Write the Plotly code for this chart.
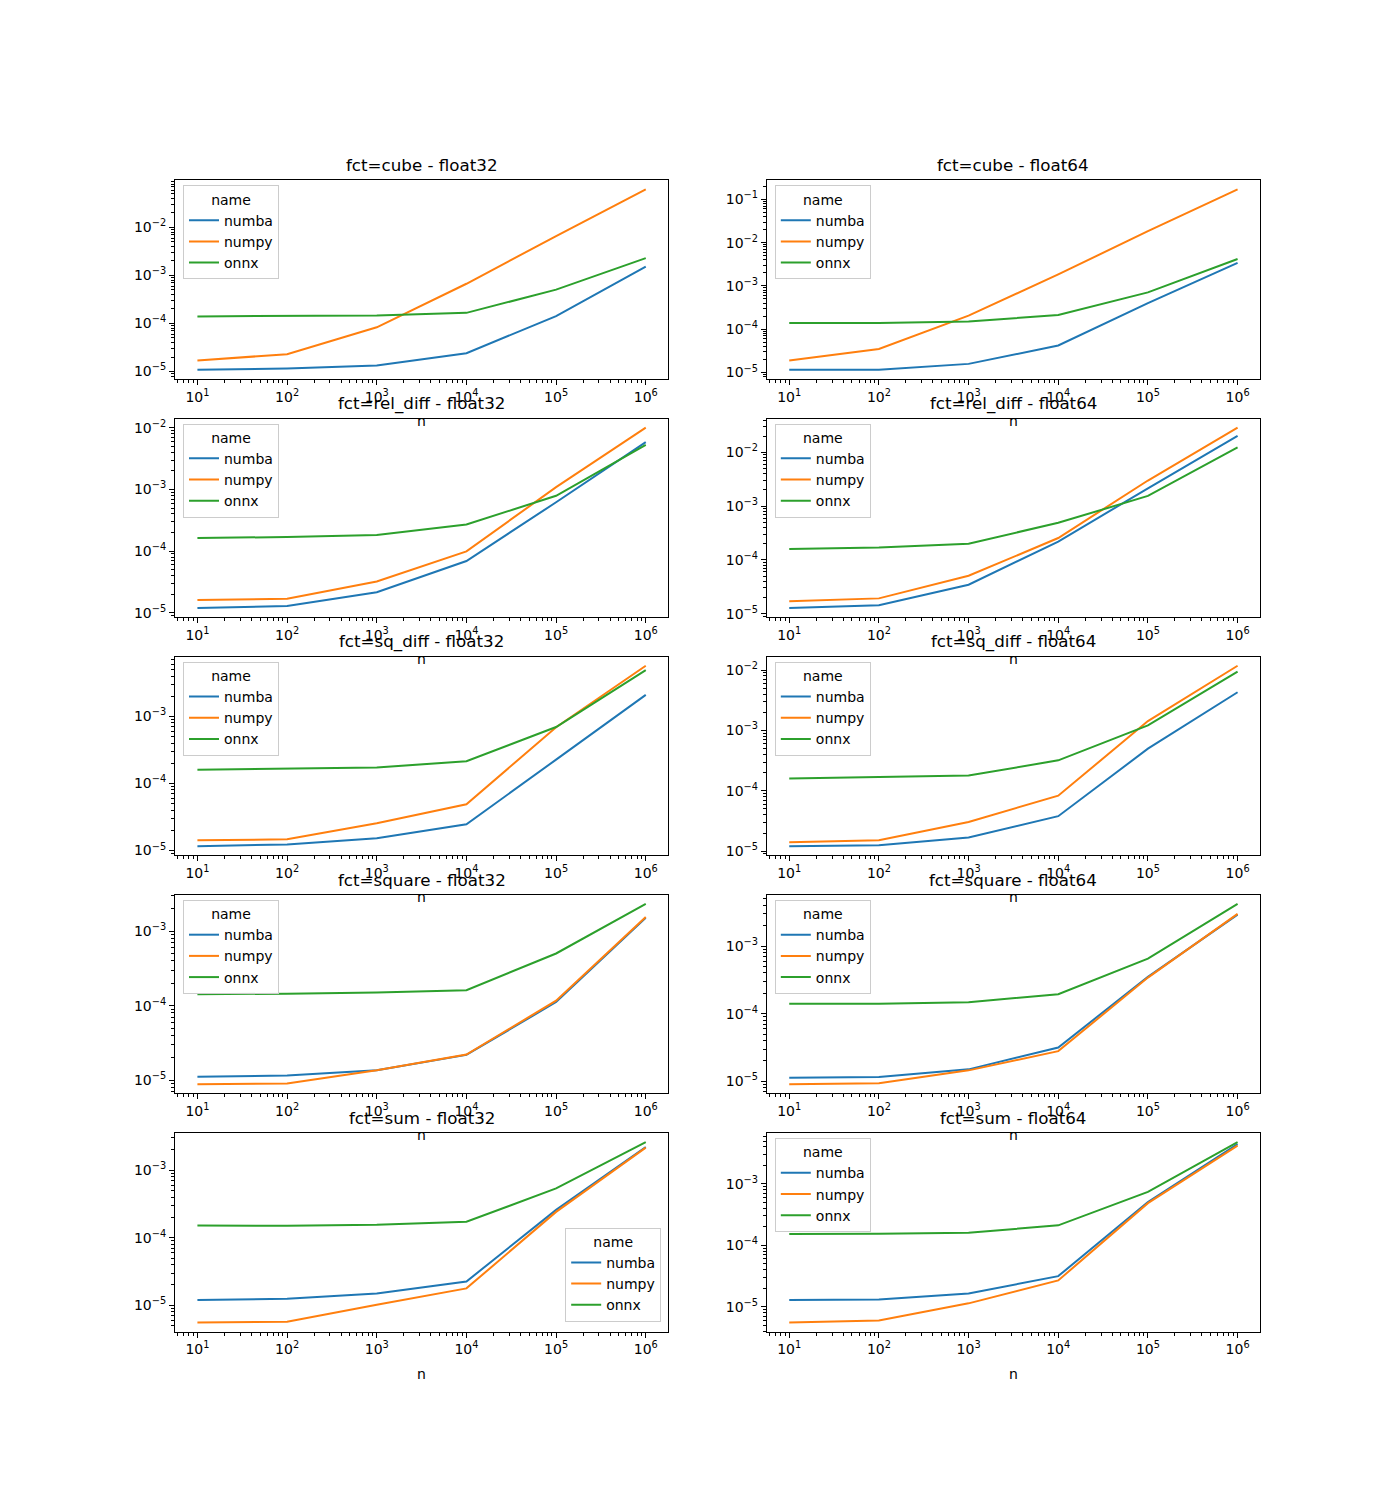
import plotly.graph_objects as go
import numpy as np

# ---------------- data ----------------
n_values = [10, 100, 1000, 10000, 100000, 1000000]
names = ["numba", "numpy", "onnx"]
colors = {"numba": "#1f77b4", "numpy": "#ff7f0e", "onnx": "#2ca02c"}

cube_f32_numba = [1.08e-5, 1.15e-5, 1.33e-5, 2.4e-5, 1.42e-4, 1.53e-3]
cube_f32_numpy = [1.69e-5, 2.29e-5, 8.3e-5, 6.7e-4, 6.6e-3, 6.17e-2]
cube_f32_onnx = [1.40e-4, 1.41e-4, 1.47e-4, 1.66e-4, 5.05e-4, 2.29e-3]

cube_f64_numba = [1.15e-5, 1.15e-5, 1.58e-5, 4.2e-5, 4.0e-4, 3.4e-3]
cube_f64_numpy = [1.89e-5, 3.5e-5, 2.06e-4, 1.85e-3, 1.84e-2, 0.17]
cube_f64_onnx = [1.39e-4, 1.39e-4, 1.5e-4, 2.13e-4, 7.1e-4, 4.2e-3]

rel_f32_numba = [1.19e-5, 1.28e-5, 2.14e-5, 6.9e-5, 6.2e-4, 5.86e-3]
rel_f32_numpy = [1.6e-5, 1.69e-5, 3.2e-5, 9.9e-5, 1.09e-3, 1.01e-2]
rel_f32_onnx = [1.63e-4, 1.69e-4, 1.82e-4, 2.7e-4, 7.9e-4, 5.3e-3]

rel_f64_numba = [1.27e-5, 1.43e-5, 3.44e-5, 2.19e-4, 2.15e-3, 2.04e-2]
rel_f64_numpy = [1.69e-5, 1.92e-5, 5.06e-5, 2.55e-4, 3.0e-3, 2.9e-2]
rel_f64_onnx = [1.6e-4, 1.7e-4, 2.0e-4, 4.9e-4, 1.55e-3, 1.24e-2]

sq_f32_numba = [1.16e-5, 1.23e-5, 1.52e-5, 2.46e-5, 2.27e-4, 2.1e-3]
sq_f32_numpy = [1.42e-5, 1.47e-5, 2.55e-5, 4.9e-5, 6.9e-4, 5.7e-3]
sq_f32_onnx = [1.6e-4, 1.67e-4, 1.73e-4, 2.15e-4, 6.95e-4, 4.9e-3]

sq_f64_numba = [1.21e-5, 1.26e-5, 1.68e-5, 3.8e-5, 4.99e-4, 4.3e-3]
sq_f64_numpy = [1.41e-5, 1.52e-5, 3.05e-5, 8.3e-5, 1.43e-3, 1.18e-2]
sq_f64_onnx = [1.6e-4, 1.7e-4, 1.79e-4, 3.2e-4, 1.21e-3, 9.4e-3]

square_f32_numba = [1.11e-5, 1.15e-5, 1.35e-5, 2.18e-5, 1.12e-4, 1.52e-3]
square_f32_numpy = [8.75e-6, 9.0e-6, 1.35e-5, 2.2e-5, 1.17e-4, 1.56e-3]
square_f32_onnx = [1.43e-4, 1.45e-4, 1.51e-4, 1.62e-4, 5.04e-4, 2.34e-3]

square_f64_numba = [1.13e-5, 1.16e-5, 1.5e-5, 3.16e-5, 3.5e-4, 2.92e-3]
square_f64_numpy = [9.0e-6, 9.35e-6, 1.45e-5, 2.79e-5, 3.42e-4, 2.99e-3]
square_f64_onnx = [1.4e-4, 1.4e-4, 1.47e-4, 1.94e-4, 6.5e-4, 4.2e-3]

sum_f32_numba = [1.2e-5, 1.25e-5, 1.49e-5, 2.25e-5, 2.58e-4, 2.2e-3]
sum_f32_numpy = [5.56e-6, 5.69e-6, 1.02e-5, 1.78e-5, 2.41e-4, 2.15e-3]
sum_f32_onnx = [1.52e-4, 1.5e-4, 1.55e-4, 1.72e-4, 5.37e-4, 2.6e-3]

sum_f64_numba = [1.28e-5, 1.3e-5, 1.63e-5, 3.14e-5, 5.05e-4, 4.46e-3]
sum_f64_numpy = [5.5e-6, 5.93e-6, 1.13e-5, 2.67e-5, 4.85e-4, 4.19e-3]
sum_f64_onnx = [1.53e-4, 1.54e-4, 1.6e-4, 2.11e-4, 7.41e-4, 4.8e-3]

panel_titles = [
    "fct=cube - float32", "fct=cube - float64",
    "fct=rel_diff - float32", "fct=rel_diff - float64",
    "fct=sq_diff - float32", "fct=sq_diff - float64",
    "fct=square - float32", "fct=square - float64",
    "fct=sum - float32", "fct=sum - float64",
]
panel_data = [
    [cube_f32_numba, cube_f32_numpy, cube_f32_onnx],
    [cube_f64_numba, cube_f64_numpy, cube_f64_onnx],
    [rel_f32_numba, rel_f32_numpy, rel_f32_onnx],
    [rel_f64_numba, rel_f64_numpy, rel_f64_onnx],
    [sq_f32_numba, sq_f32_numpy, sq_f32_onnx],
    [sq_f64_numba, sq_f64_numpy, sq_f64_onnx],
    [square_f32_numba, square_f32_numpy, square_f32_onnx],
    [square_f64_numba, square_f64_numpy, square_f64_onnx],
    [sum_f32_numba, sum_f32_numpy, sum_f32_onnx],
    [sum_f64_numba, sum_f64_numpy, sum_f64_onnx],
]
legend_lower_right = [False] * 8 + [True, False]

x_tick_exps = [1, 2, 3, 4, 5, 6]
y_tick_exps = [-6, -5, -4, -3, -2, -1, 0]

# ---------------- layout ----------------
W, H = 1400, 1500
FONT = "DejaVu Sans"
L, R, B, T = 0.125, 0.9, 0.11, 0.88
ncols, nrows = 2, 5
wsp = hsp = 0.2
cw = (R - L) / (ncols + (ncols - 1) * wsp)
rh = (T - B) / (nrows + (nrows - 1) * hsp)

minor_vals = [k * 10.0 ** e for e in range(-8, 8) for k in range(2, 10)]

fig = go.Figure()
annotations = []
layout = dict(
    width=W, height=H,
    margin=dict(l=0, r=0, t=0, b=0),
    paper_bgcolor="white", plot_bgcolor="white",
    font=dict(family=FONT, size=14, color="black"),
    showlegend=True,
)

def sup(e):
    s = str(e).replace("-", "\u2212")
    return "10<sup>" + s + "</sup>"

for i in range(10):
    r, c = divmod(i, 2)
    x0 = L + c * cw * (1 + wsp)
    x1 = x0 + cw
    y1 = T - r * rh * (1 + hsp)
    y0 = y1 - rh
    ax = "" if i == 0 else str(i + 1)
    leg = "legend" if i == 0 else "legend" + str(i + 1)

    for name, vals in zip(names, panel_data[i]):
        fig.add_trace(go.Scatter(
            x=n_values, y=vals, mode="lines", name=name,
            line=dict(color=colors[name], width=2),
            xaxis="x" + ax, yaxis="y" + ax, legend=leg,
        ))

    allv = np.log10(np.concatenate([np.array(v) for v in panel_data[i]]))
    lo, hi = allv.min(), allv.max()
    pad = 0.05 * (hi - lo)
    xl = np.log10(n_values)
    xpad = 0.05 * (xl.max() - xl.min())

    common = dict(
        showline=True, mirror=True, linecolor="black", linewidth=1,
        ticks="outside", ticklen=5, tickwidth=1, tickcolor="black",
        showgrid=False, zeroline=False,
        tickfont=dict(family=FONT, size=14, color="black"),
        minor=dict(tickmode="array", tickvals=minor_vals, ticks="outside",
                   ticklen=3, tickwidth=1, tickcolor="black", showgrid=False),
    )
    layout["xaxis" + ax] = dict(
        common, type="log", domain=[x0, x1], anchor="y" + ax,
        range=[xl.min() - xpad, xl.max() + xpad],
        tickmode="array", tickvals=[10.0 ** e for e in x_tick_exps],
        ticktext=[sup(e) for e in x_tick_exps],
    )
    layout["yaxis" + ax] = dict(
        common, type="log", domain=[y0, y1], anchor="x" + ax,
        range=[lo - pad, hi + pad],
        tickmode="array", tickvals=[10.0 ** e for e in y_tick_exps],
        ticktext=[sup(e) for e in y_tick_exps],
    )

    if legend_lower_right[i]:
        lx, ly, xa, ya = x1 - 7 / W, y0 + 10 / H, "right", "bottom"
    else:
        lx, ly, xa, ya = x0 + 8 / W, y1 - 5 / H, "left", "top"
    layout[leg] = dict(
        x=lx, y=ly, xanchor=xa, yanchor=ya,
        bgcolor="rgba(255,255,255,0.8)", bordercolor="#cccccc", borderwidth=1,
        font=dict(family=FONT, size=14, color="black"),
        title=dict(text="name", side="top center",
                   font=dict(family=FONT, size=14, color="black")),
        traceorder="normal",
    )

    annotations.append(dict(
        text=panel_titles[i], x=(x0 + x1) / 2, y=y1, xref="paper", yref="paper",
        xanchor="center", yanchor="bottom", yshift=3, showarrow=False,
        font=dict(family=FONT, size=16.7, color="black"),
    ))
    annotations.append(dict(
        text="n", x=(x0 + x1) / 2, y=y0, xref="paper", yref="paper",
        xanchor="center", yanchor="middle", yshift=-42, showarrow=False,
        font=dict(family=FONT, size=14, color="black"),
    ))

layout["annotations"] = annotations
fig.update_layout(**layout)
fig.write_html("out.html", config={"displayModeBar": False},
               post_script="document.body.style.margin='0';")
